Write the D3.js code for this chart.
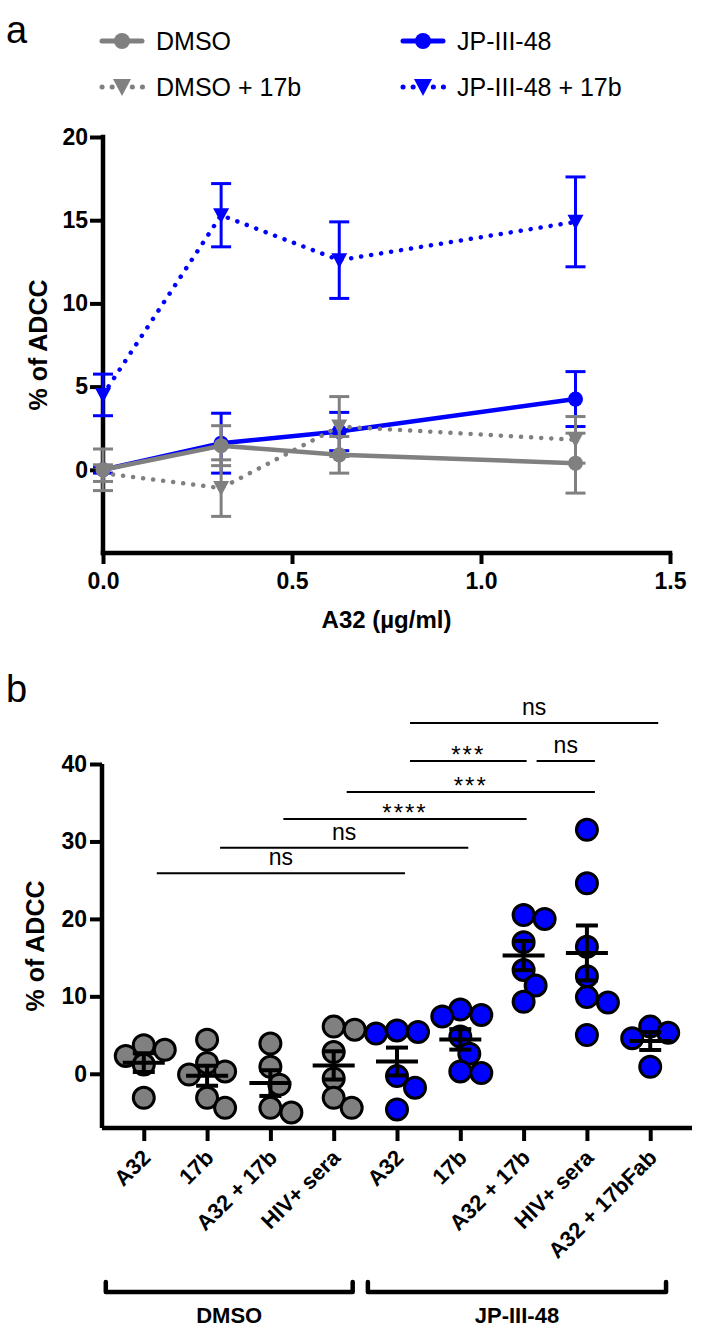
<!DOCTYPE html>
<html><head><meta charset="utf-8">
<script src="https://cdn.jsdelivr.net/npm/d3@7"></script>
<style>body{margin:0;background:#fff} text{font-family:"Liberation Sans",Arial,Helvetica,sans-serif}</style>
</head><body><svg id="c" width="701" height="1337"></svg>
<script>
// ---------- Panel a data ----------
const doses = [0, 0.3125, 0.625, 1.25];
const seriesNames = ["DMSO", "DMSO + 17b", "JP-III-48", "JP-III-48 + 17b"];
const dmsoMean = [0, 1.45, 0.9, 0.4];
const dmsoErr = [1.25, 1.2, 1.1, 1.8];
const dmso17bMean = [-0.2, -1.1, 2.6, 1.8];
const dmso17bErr = [0.5, 1.7, 1.8, 1.4];
const jpMean = [0, 1.6, 2.3, 4.25];
const jpErr = [0.2, 1.8, 1.15, 1.65];
const jp17bMean = [4.5, 15.3, 12.6, 14.9];
const jp17bErr = [1.25, 1.9, 2.3, 2.7];
const xTicksA = [0, 0.5, 1.0, 1.5];
const yTicksA = [0, 5, 10, 15, 20];

// ---------- Panel b data ----------
const categories = ["A32", "17b", "A32 + 17b", "HIV+ sera", "A32", "17b", "A32 + 17b", "HIV+ sera", "A32 + 17bFab"];
const treatment = ["DMSO", "DMSO", "DMSO", "DMSO", "JP-III-48", "JP-III-48", "JP-III-48", "JP-III-48", "JP-III-48"];
const valuesB = [
  [3.7, 2.3, 3.1, 1.2, -3.1],
  [4.4, 1.4, 0.3, -0.1, -3.1, -4.4],
  [3.9, 0.9, -1.4, -4.4, -5.0],
  [5.7, 6.1, 2.8, -0.6, -3.1, -4.4],
  [5.6, 5.4, 5.2, -0.3, -1.8, -4.6],
  [8.3, 7.4, 7.6, 4.8, 2.6, 0.1, 0.3],
  [20.0, 20.5, 17.0, 13.4, 11.4, 9.3],
  [31.5, 24.6, 16.4, 12.6, 9.9, 9.2, 5.0],
  [6.1, 4.6, 5.3, 0.9]
];
const yTicksB = [0, 10, 20, 30, 40];
// [from category, to category, label, height in % of ADCC]
const comparisons = [
  [0, 4, "ns", 25.9],
  [1, 5, "ns", 29.2],
  [2, 6, "****", 32.9],
  [3, 7, "***", 36.4],
  [4, 6, "***", 40.4],
  [6, 7, "ns", 40.4],
  [4, 8, "ns", 45.3]
];

const GRAY = "#808080", BLUE = "#0000FF";
const svg = d3.select("#c");
const FONT = '"Liberation Sans", Arial, Helvetica, sans-serif';

// ================= Panel a =================
svg.append("text").attr("x", 6).attr("y", 43).attr("font-size", 38).text("a");

const xA = d3.scaleLinear().domain([0, 1.5]).range([103, 670]);
const yA = d3.scaleLinear().domain([-5, 20]).range([553, 137]);

const ga = svg.append("g");
const yAxisA = ga.append("g").attr("transform", `translate(${xA(0)},0)`)
  .call(d3.axisLeft(yA).tickValues(yTicksA).tickSize(13).tickPadding(2).tickFormat(d3.format("d")));
const xAxisA = ga.append("g").attr("transform", `translate(0,${yA(-5)})`)
  .call(d3.axisBottom(xA).tickValues(xTicksA).tickSize(11).tickPadding(9).tickFormat(d3.format(".1f")));
[yAxisA, xAxisA].forEach(a => {
  a.select(".domain").attr("stroke", "#000").attr("stroke-width", 4.5).attr("stroke-linecap", "square");
  a.selectAll(".tick line").attr("stroke", "#000").attr("stroke-width", 4);
  a.selectAll(".tick text").attr("font-size", 23).attr("font-weight", "bold").attr("fill", "#000").attr("font-family", FONT);
});
yAxisA.select(".domain").attr("d", `M0,${yA(20)}V${yA(-5)}`);
xAxisA.select(".domain").attr("d", `M${xA(0)},0H${xA(1.5)}`);

ga.append("text").attr("transform", `translate(47,${(yA(20) + yA(-5)) / 2}) rotate(-90)`)
  .attr("text-anchor", "middle").attr("font-size", 25).attr("font-weight", "bold").text("% of ADCC");
ga.append("text").attr("x", (xA(0) + xA(1.5)) / 2).attr("y", 628)
  .attr("text-anchor", "middle").attr("font-size", 24).attr("font-weight", "bold").text("A32 (\u00b5g/ml)");

const seriesA = [
  { name: seriesNames[3], mean: jp17bMean, err: jp17bErr, color: BLUE, dotted: true, marker: "tri" },
  { name: seriesNames[2], mean: jpMean, err: jpErr, color: BLUE, dotted: false, marker: "circle" },
  { name: seriesNames[1], mean: dmso17bMean, err: dmso17bErr, color: GRAY, dotted: true, marker: "tri" },
  { name: seriesNames[0], mean: dmsoMean, err: dmsoErr, color: GRAY, dotted: false, marker: "circle" }
];
const triPath = "M-8,-7L8,-7L0,8Z";
const line = d3.line().x(d => xA(d.x)).y(d => yA(d.y));
seriesA.forEach(s => {
  const pts = doses.map((x, i) => ({ x, y: s.mean[i], e: s.err[i] }));
  const g = ga.append("g");
  pts.forEach(p => {
    const cx = xA(p.x);
    g.append("line").attr("x1", cx).attr("x2", cx).attr("y1", yA(p.y + p.e)).attr("y2", yA(p.y - p.e))
      .attr("stroke", s.color).attr("stroke-width", 3);
    [p.y + p.e, p.y - p.e].forEach(v => g.append("line").attr("x1", cx - 10).attr("x2", cx + 10)
      .attr("y1", yA(v)).attr("y2", yA(v)).attr("stroke", s.color).attr("stroke-width", 3));
  });
  const path = g.append("path").datum(pts).attr("d", line).attr("fill", "none").attr("stroke", s.color);
  if (s.dotted) path.attr("stroke-width", 4.5).attr("stroke-linecap", "round").attr("stroke-dasharray", "0.1 10");
  else path.attr("stroke-width", 4.5);
  pts.forEach(p => {
    if (s.marker === "circle") g.append("circle").attr("cx", xA(p.x)).attr("cy", yA(p.y)).attr("r", 7.5).attr("fill", s.color);
    else g.append("path").attr("d", triPath).attr("transform", `translate(${xA(p.x)},${yA(p.y)})`).attr("fill", s.color);
  });
});

// legend
const legendItems = [
  { name: seriesNames[0], color: GRAY, dotted: false, marker: "circle", x: 102, y: 41 },
  { name: seriesNames[2], color: BLUE, dotted: false, marker: "circle", x: 403, y: 41 },
  { name: seriesNames[1], color: GRAY, dotted: true, marker: "tri", x: 102, y: 87 },
  { name: seriesNames[3], color: BLUE, dotted: true, marker: "tri", x: 403, y: 87 }
];
legendItems.forEach(l => {
  const g = svg.append("g");
  const ln = g.append("line").attr("x1", l.x).attr("x2", l.x + 40).attr("y1", l.y).attr("y2", l.y)
    .attr("stroke", l.color).attr("stroke-width", 5).attr("stroke-linecap", "round");
  if (l.dotted) ln.attr("stroke-dasharray", "0.1 10").attr("x1", l.x).attr("x2", l.x + 41);
  if (l.marker === "circle") g.append("circle").attr("cx", l.x + 20).attr("cy", l.y).attr("r", 8).attr("fill", l.color);
  else g.append("path").attr("d", "M-9,-8L9,-8L0,9Z").attr("transform", `translate(${l.x + 20},${l.y})`).attr("fill", l.color);
  g.append("text").attr("x", l.x + 54).attr("y", l.y + 9).attr("font-size", 25).text(l.name);
});

// ================= Panel b =================
svg.append("text").attr("x", 6).attr("y", 702).attr("font-size", 38).text("b");

const xB = d3.scalePoint().domain(d3.range(categories.length)).range([102, 692]).padding(0.66);
const yB = d3.scaleLinear().domain([-7, 40]).range([1128, 764]);
const gb = svg.append("g");

const yAxisB = gb.append("g").attr("transform", `translate(102,0)`)
  .call(d3.axisLeft(yB).tickValues(yTicksB).tickSize(12).tickPadding(3).tickFormat(d3.format("d")));
const xAxisB = gb.append("g").attr("transform", `translate(0,${yB(-7)})`)
  .call(d3.axisBottom(xB).tickSize(13).tickFormat(() => ""));
[yAxisB, xAxisB].forEach(a => {
  a.select(".domain").attr("stroke", "#000").attr("stroke-width", 4.5);
  a.selectAll(".tick line").attr("stroke", "#000").attr("stroke-width", 4);
  a.selectAll(".tick text").attr("font-size", 23).attr("font-weight", "bold").attr("fill", "#000").attr("font-family", FONT);
});
yAxisB.select(".domain").attr("d", `M0,${yB(40)}V${yB(-7)}`);
xAxisB.select(".domain").attr("d", `M102,0H692`);

gb.append("text").attr("transform", `translate(44,${(yB(40) + yB(-7)) / 2}) rotate(-90)`)
  .attr("text-anchor", "middle").attr("font-size", 25).attr("font-weight", "bold").text("% of ADCC");

categories.forEach((c, i) => {
  gb.append("text").attr("transform", `translate(${xB(i) + 8},${yB(-7) + 31}) rotate(-45)`)
    .attr("text-anchor", "end").attr("font-size", 22).attr("font-weight", "bold").text(c);
});

// dots (simple swarm layout), mean and SEM
const R = 10.5, minD = 19;
valuesB.forEach((vals, i) => {
  const color = treatment[i] === "DMSO" ? GRAY : BLUE;
  const placed = [];
  vals.slice().sort((a, b) => b - a).forEach(v => {
    const cy = yB(v);
    let off = 0;
    for (let k = 0; k < 40; k++) {
      const cand = k === 0 ? 0 : (k % 2 ? 1 : -1) * Math.ceil(k / 2) * 3;
      if (placed.every(p => Math.hypot(p.dx - cand, p.cy - cy) >= minD)) { off = cand; break; }
    }
    placed.push({ dx: off, cy });
  });
  const g = gb.append("g");
  placed.forEach(p => g.append("circle").attr("cx", xB(i) + p.dx).attr("cy", p.cy).attr("r", R)
    .attr("fill", color).attr("stroke", "#000").attr("stroke-width", 3));
  const m = d3.mean(vals), sem = d3.deviation(vals) / Math.sqrt(vals.length);
  const cx = xB(i);
  g.append("line").attr("x1", cx - 21).attr("x2", cx + 21).attr("y1", yB(m)).attr("y2", yB(m)).attr("stroke", "#000").attr("stroke-width", 4);
  g.append("line").attr("x1", cx).attr("x2", cx).attr("y1", yB(m + sem)).attr("y2", yB(m - sem)).attr("stroke", "#000").attr("stroke-width", 4);
  [m + sem, m - sem].forEach(v => g.append("line").attr("x1", cx - 11).attr("x2", cx + 11).attr("y1", yB(v)).attr("y2", yB(v)).attr("stroke", "#000").attr("stroke-width", 4));
});

// significance lines
comparisons.forEach(([a, b, lab, h]) => {
  const x1 = xB(a) + 13, x2 = xB(b) + (b === 6 ? 3 : 8);
  const y = yB(h);
  gb.append("line").attr("x1", x1).attr("x2", x2).attr("y1", y).attr("y2", y).attr("stroke", "#000").attr("stroke-width", 2);
  const isStar = lab.indexOf("*") >= 0;
  gb.append("text").attr("x", (x1 + x2) / 2).attr("y", isStar ? y + 2 : y - 8)
    .attr("text-anchor", "middle").attr("font-size", isStar ? 24 : 23)
    .attr("letter-spacing", isStar ? 2 : 0).text(lab);
});

// group brackets
const groupsB = ["DMSO", "JP-III-48"];
const step = xB.step();
groupsB.forEach(gname => {
  const idx = d3.range(categories.length).filter(i => treatment[i] === gname);
  const first = xB(idx[0]), last = xB(idx[idx.length - 1]);
  const x1 = gname === "DMSO" ? first - 0.6 * step : first - 0.46 * step;
  const x2 = gname === "DMSO" ? last + 0.3 * step : last + 0.25 * step;
  const y = 1292;
  gb.append("path").attr("d", `M${x1},${y - 10}V${y}H${x2}V${y - 10}`).attr("fill", "none")
    .attr("stroke", "#000").attr("stroke-width", 4.5).attr("stroke-linecap", "round").attr("stroke-linejoin", "round");
  gb.append("text").attr("x", (x1 + x2) / 2).attr("y", 1323).attr("text-anchor", "middle")
    .attr("font-size", 22).attr("font-weight", "bold").text(gname);
});
</script></body></html>
